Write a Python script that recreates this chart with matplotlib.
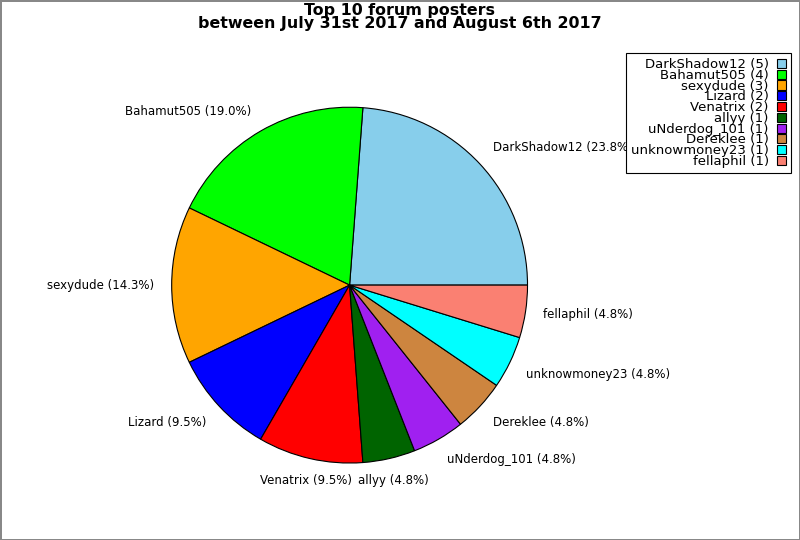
import matplotlib
matplotlib.use("Agg")
import numpy as np
import matplotlib.pyplot as plt

# forum post counts for the week
names = ["DarkShadow12", "Bahamut505", "sexydude", "Lizard", "Venatrix",
         "allyy", "uNderdog_101", "Dereklee", "unknowmoney23", "fellaphil"]
posts = [5, 4, 3, 2, 2, 1, 1, 1, 1, 1]
colors = ["skyblue", "lime", "orange", "blue", "red",
          "darkgreen", "#a020f0", "peru", "cyan", "salmon"]

total = sum(posts)
pie_labels = [f"{n} ({p / total * 100:.1f}%)" for n, p in zip(names, posts)]
legend_labels = [f"{n} ({p})" for n, p in zip(names, posts)]

fig = plt.figure(figsize=(8, 5.4), dpi=100)
fig.patch.set_edgecolor("#888888")
fig.patch.set_linewidth(2)

ax = fig.add_axes([0.159, 0.060, 0.556, 0.824])
wedges, texts = ax.pie(posts, labels=pie_labels, colors=colors,
                       startangle=0, counterclock=True,
                       wedgeprops={"edgecolor": "black", "linewidth": 0.8},
                       textprops={"fontsize": 8.5})
ax.set_aspect("equal")

# labels near the top/bottom are centred and pushed off the rim a bit
for w, t in zip(wedges, texts):
    ang = np.deg2rad((w.theta1 + w.theta2) / 2)
    c, s = np.cos(ang), np.sin(ang)
    if abs(c) < 0.3:
        t.set_ha("center")
    t.set_va("center")
    if abs(s) > 0.3:
        x, y = t.get_position()
        t.set_position((x, y + 0.025 * np.sign(s)))

fig.suptitle("Top 10 forum posters\nbetween July 31st 2017 and August 6th 2017",
             fontsize=11.4, fontweight="bold", y=0.995, linespacing=0.85)

leg = fig.legend(wedges, legend_labels, loc="upper right",
                 bbox_to_anchor=(0.989, 0.902), borderaxespad=0,
                 markerfirst=False, fontsize=9.5, labelspacing=-0.17,
                 handlelength=0.7, handleheight=0.7, handletextpad=0.6,
                 borderpad=0.4, fancybox=False, edgecolor="black",
                 framealpha=1)
for t in leg.get_texts():
    t.set_ha("right")
leg.get_frame().set_linewidth(0.8)

fig.savefig("out.png", dpi=100, edgecolor=fig.get_edgecolor())
